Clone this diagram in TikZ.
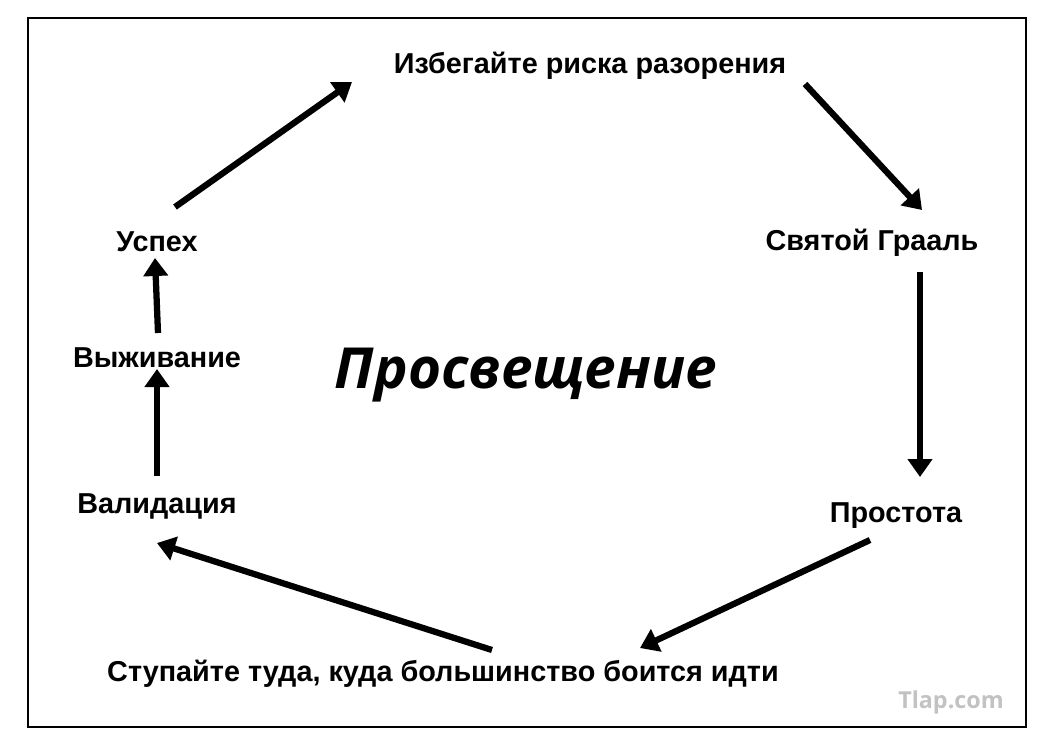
\documentclass[tikz,border=0pt]{standalone}
\usepackage{fontspec}
\setmainfont{Liberation Sans}
\newfontfamily\titlefont{Open Sans}
\usetikzlibrary{arrows.meta,calc}
\tikzset{
  lbl/.style={font=\bfseries\fontsize{21.6}{24}\selectfont},
  arr/.style={line width=4.7pt, -{Triangle[length=13.5pt,width=18pt]}},
}
\begin{document}
\begin{tikzpicture}[x=0.75pt,y=-0.75pt]
        \useasboundingbox (0,0) rectangle (1049,750);
        \draw[line width=1.6pt] (28,18) rectangle (1026,727);

        \node[lbl] (risk) at (590,66) {Избегайте риска разорения};
        \node[lbl] (grail) at (872,243) {Святой Грааль};
        \node[lbl] (prost) at (896,516) {Простота};
        \node[lbl] (stepto) at (443,674) {Ступайте туда, куда большинство боится идти};
        \node[lbl] (valid) at (157,506) {Валидация};
        \node[lbl] (surv) at (157,358) {Выживание};
        \node[lbl] (succ) at (157,242) {Успех};
        \node[font=\titlefont\bfseries\itshape\fontsize{42.5}{44}\selectfont] (enl) at (526,375) {Просвещение};
        \node[font=\titlefont\bfseries\fontsize{17.5}{18}\selectfont, text=black!24] (tlap) at (951,702) {Tlap.com};

        \draw[arr] ($(succ)+(18,-35)$) -- ($(risk)+(-238,16)$);
        \draw[arr] ($(risk)+(215,18)$) -- ($(grail)+(50,-33)$);
        \draw[arr] ($(grail)+(48,29)$) -- ($(prost)+(24,-39)$);
        \draw[arr] ($(prost)+(-26,24)$) -- ($(stepto)+(197,-26)$);
        \draw[arr] ($(stepto)+(49,-24)$) -- ($(valid)+(0,37)$);
        \draw[arr] ($(valid)+(0,-30)$) -- ($(surv)+(0,11)$);
        \draw[arr] ($(surv)+(1,-25)$) -- ($(succ)+(-2,16)$);
\end{tikzpicture}
\end{document}
